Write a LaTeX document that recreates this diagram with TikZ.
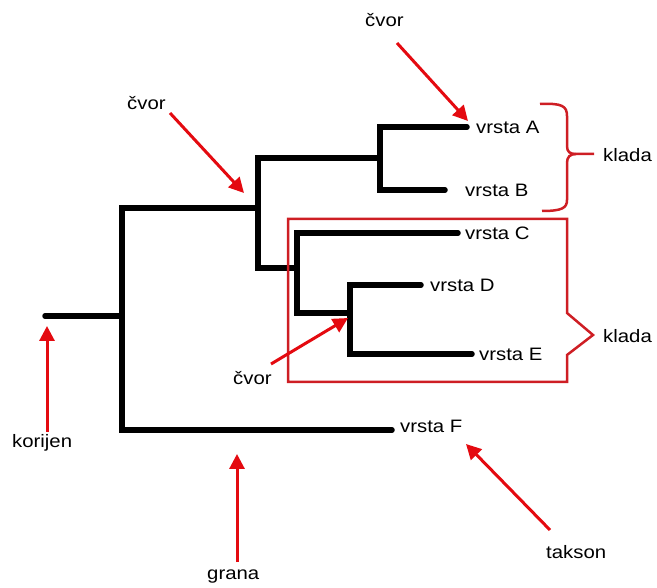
\documentclass[tikz,border=0pt]{standalone}
\usepackage{fontspec}
\setmainfont[FakeStretch=1.13]{Liberation Sans}
\usetikzlibrary{arrows.meta}
\definecolor{arrred}{RGB}{228,10,16}
\definecolor{boxred}{RGB}{206,30,36}
\tikzset{
  branch/.style={line width=5.5pt, line cap=round, line join=miter},
  lab/.style={anchor=west, inner sep=0pt, font=\fontsize{18}{20}\selectfont},
  pointer/.style={arrred, line width=3pt, -{Triangle[length=15pt,width=15pt]}},
  cladebox/.style={boxred, line width=2.5pt, line join=miter}
}
\begin{document}
\begin{tikzpicture}[x=1pt,y=-1pt]
\useasboundingbox (0,0) rectangle (657,588);
% coordinates of the tree
\coordinate (root) at (45,316);
\coordinate (r1) at (122,316);
\coordinate (n1t) at (122,208);
\coordinate (n1b) at (122,430);
\coordinate (n2) at (258,208);
\coordinate (n2t) at (258,158);
\coordinate (n2b) at (258,268);
\coordinate (n3) at (380,158);
\coordinate (n3t) at (380,127);
\coordinate (n3b) at (380,190);
\coordinate (tA) at (467,127);
\coordinate (tB) at (445,190);
\coordinate (n4) at (297,268);
\coordinate (n4t) at (297,233);
\coordinate (n4b) at (297,313);
\coordinate (tC) at (458,233);
\coordinate (n5) at (350,313);
\coordinate (n5t) at (350,285);
\coordinate (n5b) at (350,354);
\coordinate (tD) at (421,285);
\coordinate (tE) at (472,354);
\coordinate (tF) at (392,430);
% tree branches
\draw[branch] (root) -- (r1);
\draw[branch] (n2) -- (n1t) -- (n1b) -- (tF);
\draw[branch] (n3) -- (n2t) -- (n2b) -- (n4);
\draw[branch] (tA) -- (n3t) -- (n3b) -- (tB);
\draw[branch] (tC) -- (n4t) -- (n4b) -- (n5);
\draw[branch] (tD) -- (n5t) -- (n5b) -- (tE);
% species labels
\node[lab] (lA) at (476,127) {vrsta A};
\node[lab] (lB) at (465,190) {vrsta B};
\node[lab] (lC) at (465,233) {vrsta C};
\node[lab] (lD) at (430,285) {vrsta D};
\node[lab] (lE) at (479,354) {vrsta E};
\node[lab] (lF) at (400,426) {vrsta F};
% clade bracket (A,B)
\coordinate (bt) at (540,104);
\coordinate (bb) at (542,211);
\coordinate (btip) at (594,154);
\draw[cladebox] (bt) .. controls (562,103) and (567,106) .. (567,116) -- (567,146)
  .. controls (567,152) and (570,154) .. (576,154) -- (btip);
\draw[cladebox] (576,154) .. controls (570,154) and (567,157) .. (567,163) -- (567,200)
  .. controls (567,208) and (562,211) .. (bb);
\node[lab] (k1) at (603,155) {klada};
% clade box (C,D,E)
\draw[cladebox] (288,219) -- (567,219) -- (567,313) -- (593,335) -- (567,355) -- (567,382) -- (288,382) -- cycle;
\coordinate (k2tip) at (593,335);
\node[lab] (k2) at (603,336) {klada};
% annotation labels
\node[lab] (c1) at (365,20) {čvor};
\node[lab] (c2) at (127,103) {čvor};
\node[lab] (c3) at (233,378) {čvor};
\node[lab] (kor) at (12,443) {korijen};
\node[lab] (gr) at (207,577) {grana};
\node[lab] (tak) at (546,552) {takson};
% arrow ends
\coordinate (a1s) at (397,43);
\coordinate (a1e) at (468,121);
\coordinate (a2s) at (170,113);
\coordinate (a2e) at (244,193);
\coordinate (a3s) at (271,364);
\coordinate (a3e) at (348,318);
\coordinate (a4s) at (47,432);
\coordinate (a4e) at (47,326);
\coordinate (a5s) at (237,562);
\coordinate (a5e) at (237,454);
\coordinate (a6s) at (550,530);
\coordinate (a6e) at (466,444);
\draw[pointer] (a1s) -- (a1e);
\draw[pointer] (a2s) -- (a2e);
\draw[pointer] (a3s) -- (a3e);
\draw[pointer] (a4s) -- (a4e);
\draw[pointer] (a5s) -- (a5e);
\draw[pointer] (a6s) -- (a6e);
\end{tikzpicture}
\end{document}
